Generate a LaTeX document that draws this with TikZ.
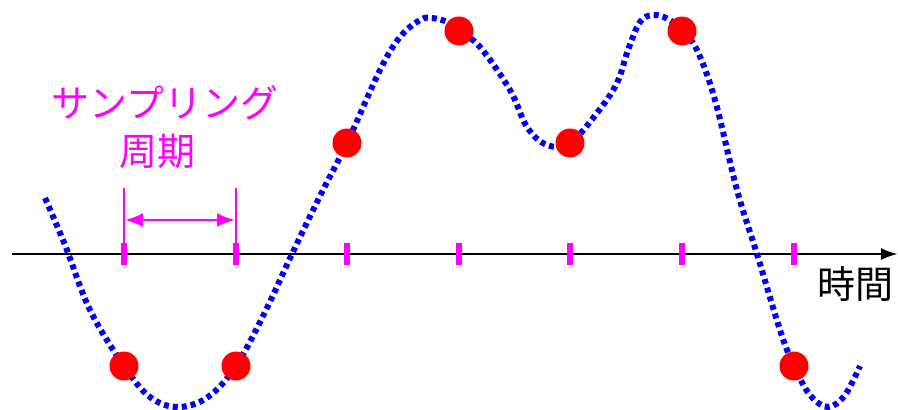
\documentclass[tikz,border=0pt]{standalone}
\usepackage{fontspec}
\newfontfamily\cjk{Noto Sans CJK JP}
\usetikzlibrary{arrows.meta}
\definecolor{mag}{RGB}{255,0,255}
\definecolor{sigblue}{RGB}{0,0,255}
\definecolor{dotred}{RGB}{255,0,0}
\tikzset{
  sample/.style={circle,fill=dotred,inner sep=0pt,minimum size=29},
  tickmark/.style={draw=mag,line width=6.5},
  signal/.style={draw=sigblue,line width=6,dash pattern=on 5 off 4},
  lab/.style={font=\cjk\fontsize{38}{42}\selectfont,inner sep=0pt},
}
\begin{document}
\begin{tikzpicture}[x=1pt,y=-1pt]
\useasboundingbox (0,0) rectangle (898,410);
% axis
\coordinate (a0) at (12,254);
\coordinate (a1) at (898,254);
\draw[line width=2.5,-{Latex[length=17,width=12]}] (a0) -- (a1);
% ticks
\foreach \i/\x in {1/124,2/236,3/347,4/459,5/570,6/682,7/794}{
  \coordinate (t\i) at (\x,254);
  \draw[tickmark] (\x,243) -- (\x,265);
}
% signal
\draw[signal] plot[smooth,tension=0.6] coordinates {
 (45,198) (65,245) (90,310) (124,366) (150,397) (178,407) (208,397) (236,366)
 (265,312) (292,254) (320,196) (347,143) (380,70) (400,37) (420,20) (432,18)
 (447,22) (459,31) (480,47) (510,90) (527,127) (547,145) (570,143) (597,113)
 (617,83) (628,50) (640,22) (653,15) (668,19) (682,31) (697,50) (715,100)
 (737,190) (757,254) (780,330) (794,366) (810,395) (828,407) (845,395) (860,366)};
% samples
\foreach \i/\x/\y in {1/124/366,2/236/366,3/347/143,4/459/31,5/570/143,6/682/31,7/794/366}{
  \node[sample] (s\i) at (\x,\y) {};
}
% sampling period
\coordinate (v1a) at (124,188);
\coordinate (v1b) at (124,244);
\coordinate (v2a) at (236,188);
\coordinate (v2b) at (236,244);
\draw[mag,line width=2] (v1a) -- (v1b);
\draw[mag,line width=2] (v2a) -- (v2b);
\coordinate (p1) at (125,220);
\coordinate (p2) at (235,220);
\draw[mag,line width=2.5,{Latex[length=18,width=14]}-{Latex[length=18,width=14]}] (p1) -- (p2);
\node[lab,text=mag] (l1) at (165,103) {サンプリング};
\node[lab,text=mag] (l2) at (157,151) {周期};
\node[lab] (l3) at (855,284) {時間};
\end{tikzpicture}
\end{document}
